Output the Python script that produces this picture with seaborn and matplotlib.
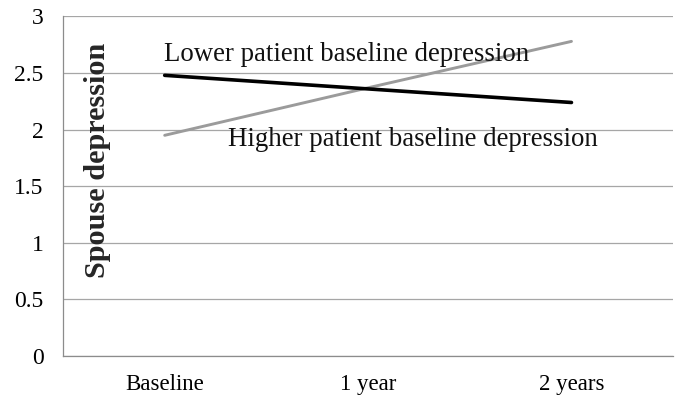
import matplotlib
matplotlib.use('Agg')
import matplotlib.pyplot as plt
import pandas as pd
import seaborn as sns

sns.set_theme(style='white')
plt.rcParams['font.family'] = ['Liberation Serif', 'DejaVu Serif']

time_points = ['Baseline', '1 year', '2 years']
lower_patient = [2.48, 2.36, 2.24]
higher_patient = [1.95, 2.37, 2.78]
y_ticks = [0, 0.5, 1, 1.5, 2, 2.5, 3]
y_tick_labels = ['0', '0.5', '1', '1.5', '2', '2.5', '3']

df = pd.DataFrame({
    'pos': list(range(len(time_points))) * 2,
    'value': lower_patient + higher_patient,
    'group': ['Lower'] * 3 + ['Higher'] * 3,
})

fig = plt.figure(figsize=(6.81, 4.01), dpi=100)
ax = fig.add_axes([0.0925, 0.1122, 0.896, 0.8467])

for ticky in y_ticks:
    ax.axhline(ticky, color='#a6a6a6', linewidth=0.9, zorder=0)

sns.lineplot(data=df[df['group'] == 'Lower'], x='pos', y='value', ax=ax,
             color='black', linewidth=2.6, legend=False, zorder=3)
sns.lineplot(data=df[df['group'] == 'Higher'], x='pos', y='value', ax=ax,
             color='#9b9b9b', linewidth=2.1, legend=False, zorder=2)

ax.set_xlim(-0.5, 2.5)
ax.set_ylim(0, 3)
ax.set_xticks(range(len(time_points)))
ax.set_xticklabels(time_points, fontsize=16.5)
ax.set_xticks([-0.5, 0.5, 1.5, 2.5], minor=True)
ax.tick_params(axis='x', which='major', length=0, pad=13)
ax.tick_params(axis='x', which='minor', length=6, color='#8c8c8c', width=0.9, direction='out')
ax.set_yticks(y_ticks)
ax.set_yticklabels(y_tick_labels, fontsize=17)
ax.tick_params(axis='y', length=6, color='#a6a6a6', width=0.9, direction='out', pad=8)
ax.tick_params(axis='both', labelcolor='black')

for side in ['top', 'right']:
    ax.spines[side].set_visible(False)
for side in ['left', 'bottom']:
    ax.spines[side].set_color('#8c8c8c')
    ax.spines[side].set_linewidth(0.9)

ax.set_xlabel('')
ax.set_ylabel('Spouse depression', fontsize=21.8, fontweight='bold', va='center')
ax.yaxis.set_label_coords(0.056, 0.577)

ax.text(-0.005, 2.61, 'Lower patient baseline depression', fontsize=19.4,
        va='baseline', ha='left', color='#111111')
ax.text(0.31, 1.855, 'Higher patient baseline depression', fontsize=19.4,
        va='baseline', ha='left', color='#111111')

fig.savefig('out.png', dpi=100)
